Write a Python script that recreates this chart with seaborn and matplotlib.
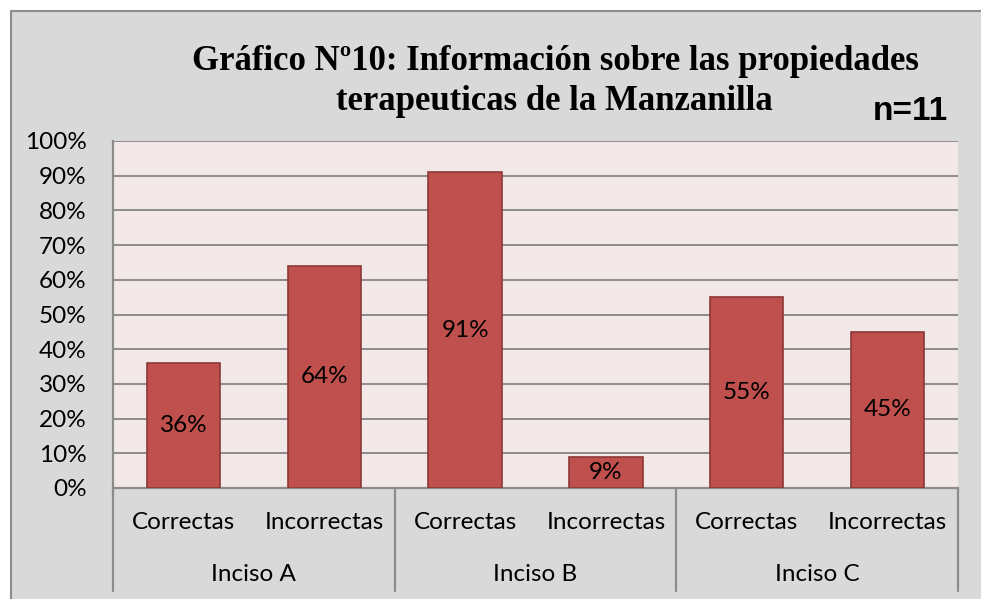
import pandas as pd
import matplotlib.pyplot as plt
import seaborn as sns
from matplotlib.patches import Rectangle
from matplotlib.lines import Line2D

# data
incisos = ['Inciso A', 'Inciso A', 'Inciso B', 'Inciso B', 'Inciso C', 'Inciso C']
respuestas = ['Correctas', 'Incorrectas', 'Correctas', 'Incorrectas', 'Correctas', 'Incorrectas']
porcentajes = [36, 64, 91, 9, 55, 45]
grupos = ['Inciso A', 'Inciso B', 'Inciso C']

df = pd.DataFrame({'inciso': incisos, 'respuesta': respuestas, 'valor': porcentajes})
df['clave'] = df['inciso'] + ' ' + df['respuesta']

sns.set_style('white')
plt.rcParams['font.family'] = ['Lato', 'DejaVu Sans']
plt.rcParams['text.color'] = 'black'
plt.rcParams['xtick.color'] = 'black'
plt.rcParams['ytick.color'] = 'black'

W, H = 981, 599
fig = plt.figure(figsize=(W / 100, H / 100), dpi=100, facecolor='white')

# gray chart area, border only on top and left
x0, y0 = 11 / W, 1 - 11 / H
fig.patches.append(Rectangle((x0, 0), 1 - x0, y0, transform=fig.transFigure,
                             facecolor='#d9d9d9', edgecolor='none', zorder=-5))
fig.lines.append(Line2D([x0, x0, 1], [0, y0, y0], transform=fig.transFigure,
                        color='#8c8c8c', linewidth=1.5, zorder=-4))

ax = fig.add_axes([113 / W, (H - 488) / H, (958 - 113) / W, (488 - 141) / H])
ax.set_facecolor('#f2e8e8')

sns.barplot(data=df, x='clave', y='valor', color='#c0504d', width=0.52,
            edgecolor='#8c3836', linewidth=1.2, saturation=1, ax=ax, zorder=3)

ax.bar_label(ax.containers[0], labels=[f'{v}%' for v in porcentajes],
             label_type='center', fontsize=17.5, color='black')

ax.set_ylim(0, 100)
ax.set_xlim(-0.5, 5.5)
ax.set_yticks(range(0, 101, 10))
ax.set_yticklabels([f'{t}%' for t in range(0, 101, 10)], fontsize=17.5)
ax.tick_params(axis='y', length=0, pad=19)
ax.yaxis.grid(True, color='#8c8c8c', linewidth=1.4, zorder=1)
ax.set_axisbelow(True)
for s in ['top', 'right']:
    ax.spines[s].set_visible(False)
ax.spines['left'].set_color('#8c8c8c')
ax.spines['left'].set_linewidth(1.6)
ax.spines['bottom'].set_color('#8c8c8c')
ax.spines['bottom'].set_linewidth(1.6)
ax.set_xlabel('')
ax.set_ylabel('')

# two-level x axis
ax.set_xticks(range(len(respuestas)))
ax.set_xticklabels(respuestas, fontsize=17.5)
ax.tick_params(axis='x', length=0, pad=17)
trans = ax.get_xaxis_transform()
for i, g in enumerate(grupos):
    ax.text(2 * i + 0.5, -0.248, g, transform=trans, ha='center', va='center',
            fontsize=17.5, clip_on=False)
for xs in [-0.5, 1.5, 3.5, 5.5]:
    ax.add_line(Line2D([xs, xs], [0, -0.297], transform=trans, color='#8c8c8c',
                       linewidth=1.6, clip_on=False))

fig.text(555 / W, 1 - 62 / H, 'Gráfico Nº10: Información sobre las propiedades',
         family='Liberation Serif', fontweight='bold', fontsize=25, ha='center', va='center')
fig.text(554 / W, 1 - 102 / H, 'terapeuticas de la Manzanilla',
         family='Liberation Serif', fontweight='bold', fontsize=25, ha='center', va='center')
fig.text(910 / W, 1 - 112 / H, 'n=11', family='Liberation Sans', fontweight='bold',
         fontsize=24, ha='center', va='center')

plt.savefig('out.png', dpi=100, facecolor='white')
